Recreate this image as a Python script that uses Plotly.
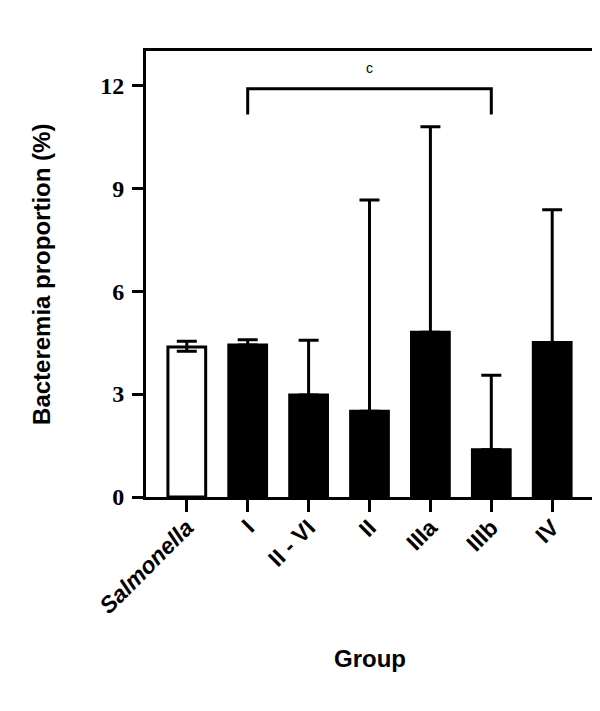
import plotly.graph_objects as go

categories = ["<i>Salmonella</i>", "I", "II - VI", "II", "IIIa", "IIIb", "IV"]
means = [4.37, 4.43, 2.97, 2.50, 4.80, 1.38, 4.50]
err_plus = [0.17, 0.15, 1.60, 6.16, 5.99, 2.17, 3.87]
err_minus = [0.12, 0.0, 0.0, 0.0, 0.0, 0.0, 0.0]
fill_colors = ["white", "black", "black", "black", "black", "black", "black"]
y_ticks = [0, 3, 6, 9, 12]

x_title = "Group"
y_title = "Bacteremia proportion (%)"

bracket_left = "I"
bracket_right = "IIIb"
bracket_low = 11.15
bracket_high = 11.9
bracket_label = "c"
bracket_label_y = 12.5

xpos = list(range(len(categories)))

fig = go.Figure()
fig.add_trace(go.Bar(
    x=xpos, y=means, width=0.62,
    marker=dict(color=fill_colors, line=dict(color="black", width=3)),
    error_y=dict(type="data", array=err_plus, arrayminus=err_minus, symmetric=False,
                 color="black", thickness=3, width=10),
    showlegend=False,
))

li = categories.index(bracket_left)
ri = categories.index(bracket_right)
fig.add_shape(type="path",
              path=f"M {li},{bracket_low} L {li},{bracket_high} L {ri},{bracket_high} L {ri},{bracket_low}",
              xref="x", yref="y", line=dict(color="black", width=3))
fig.add_annotation(x=(li + ri) / 2, y=bracket_label_y, text=bracket_label, showarrow=False,
                   font=dict(family="Liberation Sans", size=14, color="black"))

# axis titles
fig.add_annotation(x=0.501, y=-0.328, xref="paper", yref="paper", text=x_title,
                   showarrow=False, xanchor="center", yanchor="top",
                   font=dict(family="Liberation Sans", size=24, color="black", weight="bold"))
fig.add_annotation(x=-0.235, y=0.5, xref="paper", yref="paper", text=y_title,
                   showarrow=False, xanchor="center", yanchor="middle", textangle=-90,
                   font=dict(family="Liberation Sans", size=24, color="black", weight="bold"))

fig.update_layout(
    width=600, height=711,
    margin=dict(l=138, r=15, t=43, b=222),
    paper_bgcolor="white", plot_bgcolor="white",
)
fig.update_xaxes(
    range=[-0.67, 6.67], tickmode="array", tickvals=xpos, ticktext=categories,
    tickangle=-45, ticks="outside", ticklen=12, tickwidth=3, tickcolor="black",
    showline=True, linewidth=3, linecolor="black", mirror=True, showgrid=False, zeroline=False,
    tickfont=dict(family="Liberation Sans", size=23, color="black", weight="bold"),
    ticklabelstandoff=-7,
)
fig.update_yaxes(
    range=[0, 13], tickmode="array", tickvals=y_ticks, ticktext=[str(v) for v in y_ticks],
    ticks="outside", ticklen=11, tickwidth=3, tickcolor="black",
    showline=True, linewidth=3, linecolor="black", mirror=True, showgrid=False, zeroline=False,
    tickfont=dict(family="Liberation Serif", size=24, color="black", weight="bold"),
    ticklabelstandoff=3,
)

fig.write_html("out.html")
